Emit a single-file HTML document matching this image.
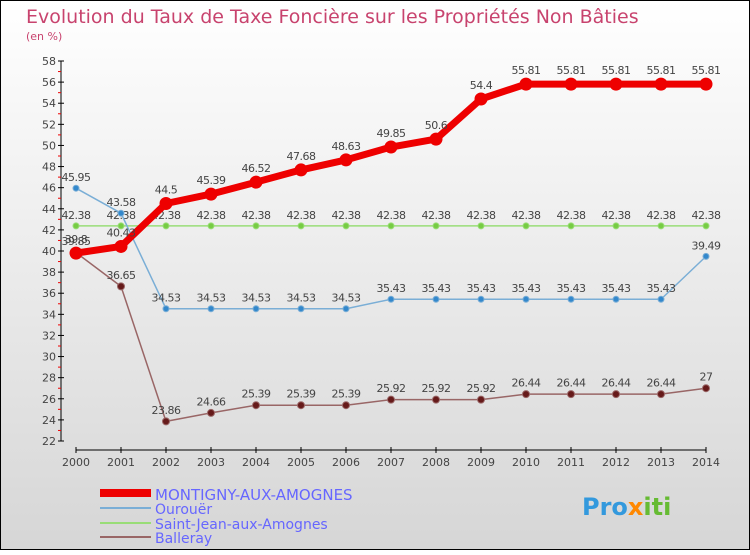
<!DOCTYPE html>
<html><head><meta charset="utf-8"><style>
body{margin:0}
svg text{font-family:"DejaVu Sans","Liberation Sans",sans-serif}
</style></head><body>
<svg width="750" height="550" xmlns="http://www.w3.org/2000/svg">
<defs><linearGradient id="bg" x1="0" y1="0" x2="0" y2="1"><stop offset="0" stop-color="#ffffff"/><stop offset="1" stop-color="#d6d6d6"/></linearGradient></defs>
<rect x="0.5" y="0.5" width="749" height="549" fill="url(#bg)" stroke="#000"/>
<text x="26" y="23" font-size="19" fill="#c8436e">Evolution du Taux de Taxe Foncière sur les Propriétés Non Bâties</text>
<text x="26" y="40" font-size="11" fill="#c8436e">(en %)</text>
<g id="axes"></g>
<g id="series"></g>
<g>
<rect x="100" y="489" width="51" height="8" fill="#e00"/>
<text x="155" y="500" font-size="15" fill="#6666ff">MONTIGNY-AUX-AMOGNES</text>
<rect x="100" y="507" width="51" height="2" fill="#7aaed6"/>
<text x="155" y="514" font-size="14" fill="#6666ff">Ourouër</text>
<rect x="100" y="522" width="51" height="2" fill="#99dd77"/>
<text x="155" y="529" font-size="14" fill="#6666ff">Saint-Jean-aux-Amognes</text>
<rect x="100" y="536" width="51" height="2" fill="#996666"/>
<text x="155" y="543" font-size="14" fill="#6666ff">Balleray</text>
</g>
<text x="582" y="515" font-size="24" font-weight="bold" fill="#3399dd">Pro<tspan fill="#ff8800">x</tspan><tspan fill="#66bb33">iti</tspan></text>
</svg>
<script>
const years=[2000,2001,2002,2003,2004,2005,2006,2007,2008,2009,2010,2011,2012,2013,2014];
const yTicks=[22,24,26,28,30,32,34,36,38,40,42,44,46,48,50,52,54,56,58];
const montigny=[39.8,40.43,44.5,45.39,46.52,47.68,48.63,49.85,50.6,54.4,55.81,55.81,55.81,55.81,55.81];
const ourouer=[45.95,43.58,34.53,34.53,34.53,34.53,34.53,35.43,35.43,35.43,35.43,35.43,35.43,35.43,39.49];
const saintJean=[42.38,42.38,42.38,42.38,42.38,42.38,42.38,42.38,42.38,42.38,42.38,42.38,42.38,42.38,42.38];
const balleray=[39.85,36.65,23.86,24.66,25.39,25.39,25.39,25.92,25.92,25.92,26.44,26.44,26.44,26.44,27];
const NS="http://www.w3.org/2000/svg";
const X=i=>76+i*45;
const Y=v=>441-(v-22)*(380/36);
function mk(t,a,p){const e=document.createElementNS(NS,t);for(const k in a)e.setAttribute(k,a[k]);p.appendChild(e);return e;}
const ax=document.getElementById('axes'),sg=document.getElementById('series');
let l=mk('line',{x1:61,y1:Y(58),x2:61,y2:441,stroke:'#000'},ax);


yTicks.forEach(v=>{
 mk('line',{x1:58,x2:64,y1:Y(v),y2:Y(v),stroke:'#000'},ax);
 if(v<58)mk('line',{x1:58,x2:61,y1:Y(v+1),y2:Y(v+1),stroke:'#e00'},ax);
 const t=mk('text',{x:56,y:Y(v)+4,'font-size':11,fill:'#444','text-anchor':'end'},ax);t.textContent=v;
 
 
});
l=mk('line',{x1:76,y1:450,x2:706,y2:450,stroke:'#000'},ax);


years.forEach((y,i)=>{
 mk('line',{x1:X(i),x2:X(i),y1:447,y2:453,stroke:'#000'},ax);
 const t=mk('text',{x:X(i),y:466,'font-size':11,fill:'#444','text-anchor':'middle'},ax);t.textContent=y;
 
 
});
function series(vals,name,col,w,r,dot){
 const g=mk('g',{},sg);
 
 
 const p=mk('polyline',{points:vals.map((v,i)=>X(i)+','+Y(v)).join(' '),fill:'none',stroke:col,'stroke-width':w,'stroke-linejoin':'round'},g);
 
 
 vals.forEach((v,i)=>{
  const c=mk('circle',{cx:X(i),cy:Y(v),r:r,fill:dot,stroke:col,'stroke-width':1},g);
  
  
  const t=mk('text',{x:X(i),y:Y(v)-r-4,'font-size':11,fill:'#444','text-anchor':'middle','letter-spacing':'-0.5'},g);t.textContent=v;
  
  
 });
}
series(saintJean,'saint-jean','#99dd77',1.5,3,'#77cc44');
series(ourouer,'ourouer','#7aaed6',1.5,3,'#3388cc');
series(balleray,'balleray','#996666',1.5,3.5,'#661a1a');
series(montigny,'montigny','#e00',7,6,'#e00');
</script>
</body></html>
